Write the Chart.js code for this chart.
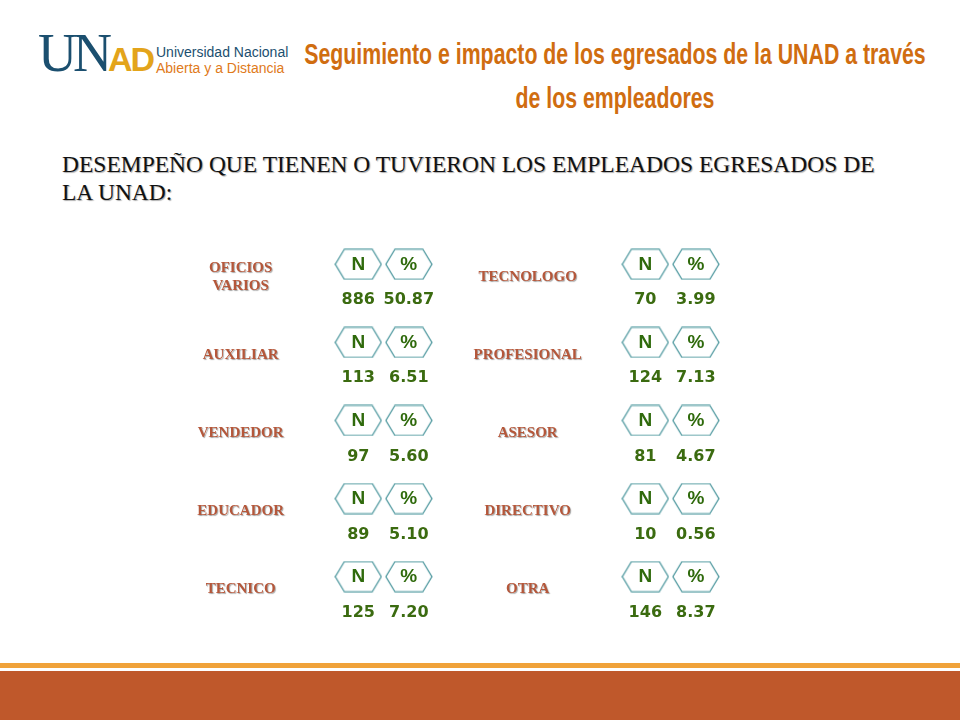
<!DOCTYPE html>
<html><head><meta charset="utf-8">
<script src="https://cdn.jsdelivr.net/npm/chart.js@4/dist/chart.umd.min.js"></script>
<style>
body{margin:0;width:960px;height:720px;position:relative;background:#fff;overflow:hidden;font-family:"Liberation Sans",Arial,sans-serif}
#logo{position:absolute;left:38px;top:22px}
#title{position:absolute;left:165px;width:900px;top:32px;text-align:center;white-space:nowrap;color:#d06d10;font-weight:bold;font-size:30px;line-height:44px;transform:scaleX(0.71);transform-origin:center top}
#sub{position:absolute;left:62px;top:150px;width:880px;white-space:nowrap;font-family:"Liberation Serif",serif;font-size:23.5px;line-height:28px;color:#111;text-shadow:1px 1px 1px #aaa}
#wrap{position:absolute;left:0;top:230px;width:960px;height:420px}
#line{position:absolute;left:0;top:663px;width:960px;height:5px;background:#f0a23a}
#bar{position:absolute;left:0;top:671px;width:960px;height:49px;background:#bf582b}
</style></head><body>
<div id="logo">
 <span style="font-family:'Liberation Serif',serif;font-size:54px;color:#1b4f6f;letter-spacing:-4px">UN</span><span style="font-weight:bold;font-size:34px;color:#e3a41b;letter-spacing:-2px">AD</span>
 <span style="position:absolute;left:118px;top:22px;white-space:nowrap;font-size:14px;line-height:16px"><span style="color:#1b4f6f">Universidad Nacional</span><br><span style="color:#e07a1a">Abierta y a Distancia</span></span>
</div>
<div id="title">Seguimiento e impacto de los egresados de la UNAD a través<br>de los empleadores</div>
<div id="sub">DESEMPEÑO QUE TIENEN O TUVIERON LOS EMPLEADOS EGRESADOS DE<br>LA UNAD:</div>
<div id="wrap"><canvas id="myChart"></canvas></div>
<div id="line"></div><div id="bar"></div>
<script>
// Datos del cuadro
const leftLabels = ['OFICIOS\nVARIOS', 'AUXILIAR', 'VENDEDOR', 'EDUCADOR', 'TECNICO'];
const leftN = [886, 113, 97, 89, 125];
const leftPct = ['50.87', '6.51', '5.60', '5.10', '7.20'];
const rightLabels = ['TECNOLOGO', 'PROFESIONAL', 'ASESOR', 'DIRECTIVO', 'OTRA'];
const rightN = [70, 124, 81, 10, 146];
const rightPct = ['3.99', '7.13', '4.67', '0.56', '8.37'];

// Hexágono como pointStyle
function hexImage(w, h) {
    const c = document.createElement('canvas');
    c.width = w + 2; c.height = h + 2;
    const g = c.getContext('2d');
    const t = 9;
    g.beginPath();
    g.moveTo(1, h / 2 + 1); g.lineTo(1 + t, 1); g.lineTo(w + 1 - t, 1);
    g.lineTo(w + 1, h / 2 + 1); g.lineTo(w + 1 - t, h + 1); g.lineTo(1 + t, h + 1);
    g.closePath();
    g.fillStyle = '#fff'; g.fill();
    g.strokeStyle = '#3f8f96'; g.lineWidth = 1.2; g.stroke();
    return c;
}
const hex = hexImage(46, 30);

function points(col, dx, dy, n) {
    const out = [];
    for (let i = 0; i < n; i++) out.push({ x: col + dx, y: i + dy });
    return out;
}

const PCT_DX = 0.176, VAL_DY = 0.46, LAB_DX = -0.41, LAB_DY = 0.16;

const textPlugin = {
    id: 'textos',
    afterDatasetsDraw(chart) {
        const ctx = chart.ctx, xs = chart.scales.x, ys = chart.scales.y;
        ctx.save();
        ctx.textAlign = 'center'; ctx.textBaseline = 'middle';
        [[0, leftLabels, leftN, leftPct], [1, rightLabels, rightN, rightPct]].forEach(([col, labs, ns, ps]) => {
            labs.forEach((lab, i) => {
                // encabezados de hexágono
                ctx.fillStyle = '#2f6a0c';
                ctx.font = 'bold 19px "Liberation Sans", Arial';
                ctx.fillText('N', xs.getPixelForValue(col), ys.getPixelForValue(i));
                ctx.fillText('%', xs.getPixelForValue(col + PCT_DX), ys.getPixelForValue(i));
                // valores
                ctx.fillStyle = '#3b6b10';
                ctx.font = 'bold 16px "DejaVu Sans", Arial';
                ctx.fillText(String(ns[i]), xs.getPixelForValue(col), ys.getPixelForValue(i + VAL_DY));
                ctx.fillText(ps[i], xs.getPixelForValue(col + PCT_DX), ys.getPixelForValue(i + VAL_DY));
                // etiqueta
                ctx.font = 'bold 15px "Liberation Serif", serif';
                ctx.shadowColor = 'rgba(0,0,0,0.35)'; ctx.shadowOffsetX = 1; ctx.shadowOffsetY = 1; ctx.shadowBlur = 1;
                ctx.fillStyle = '#b5573a';
                const lines = lab.split('\n');
                const lx = xs.getPixelForValue(col + LAB_DX), ly = ys.getPixelForValue(i + LAB_DY);
                lines.forEach((l, k) => ctx.fillText(l, lx, ly + (k - (lines.length - 1) / 2) * 18));
                ctx.shadowColor = 'transparent';
            });
        });
        ctx.restore();
    }
};

new Chart(document.getElementById('myChart'), {
    type: 'scatter',
    data: {
        datasets: [
            { label: 'N izq', data: points(0, 0, 0, leftN.length), pointStyle: hex },
            { label: '% izq', data: points(0, PCT_DX, 0, leftPct.length), pointStyle: hex },
            { label: 'N der', data: points(1, 0, 0, rightN.length), pointStyle: hex },
            { label: '% der', data: points(1, PCT_DX, 0, rightPct.length), pointStyle: hex }
        ]
    },
    options: {
        responsive: true, maintainAspectRatio: false, animation: false,
        layout: { padding: 0 },
        plugins: { legend: { display: false }, tooltip: { enabled: false } },
        scales: {
            x: { type: 'linear', display: false, min: -1.231, max: 2.079 },
            y: { type: 'linear', display: false, reverse: true, min: -0.375, max: 4.875 }
        }
    },
    plugins: [textPlugin]
});
</script>
</body></html>
